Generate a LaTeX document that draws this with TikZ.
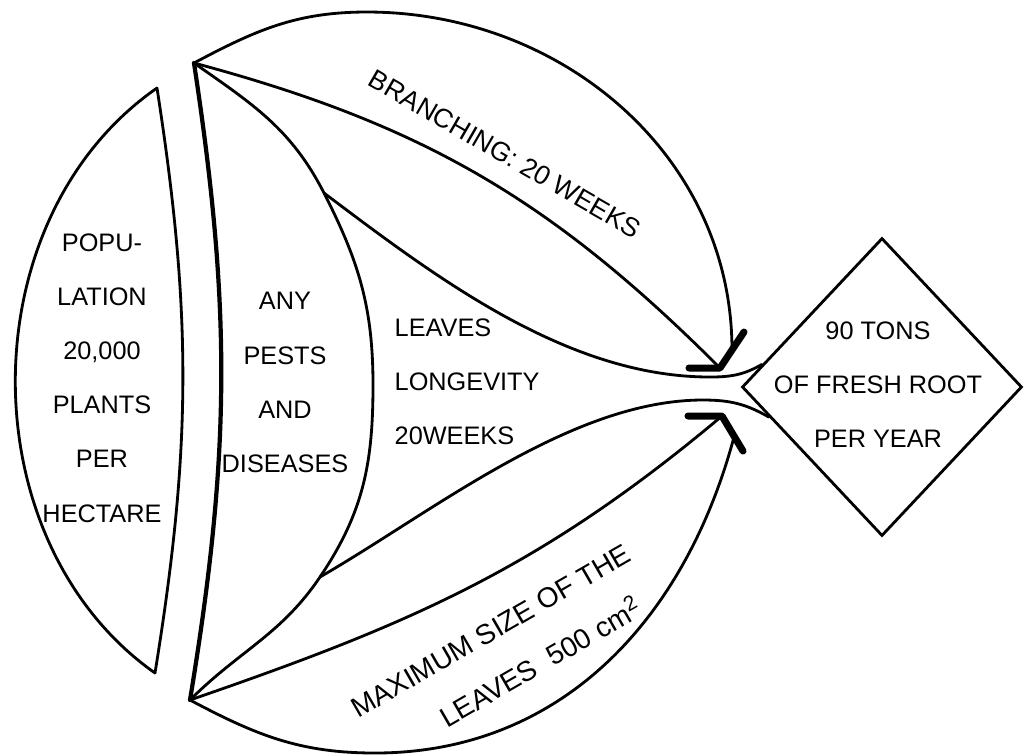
\documentclass[tikz,border=0pt]{standalone}
\usepackage{fontspec}
\setmainfont{Liberation Sans}
\usetikzlibrary{shapes.geometric, calc}

\begin{document}
\begin{tikzpicture}[
    rim/.style={thick, line cap=round},
    stem/.style={very thick, line cap=round},
    barb/.style={line width=2pt, line cap=round, line join=round},
    txt/.style={font=\fontsize{7.2}{15.4}\selectfont, align=center, inner sep=0pt},
    slant/.style={font=\fontsize{7.6}{15}\selectfont, align=center, inner sep=0pt},
    goal/.style={draw, thick, diamond, minimum width=2.8cm, minimum height=2.98cm, inner sep=0pt}
  ]
  \useasboundingbox (0,0) rectangle (10.24,-7.55);

  % Eckpunkte
  \coordinate (lt)  at (1.57,-0.88);
  \coordinate (lb)  at (1.55,-6.73);
  \coordinate (a)   at (1.94,-0.63);
  \coordinate (b)   at (1.90,-7.00);
  \coordinate (j1)  at (3.24,-1.93);
  \coordinate (pm)  at (3.73,-3.85);
  \coordinate (j2)  at (3.20,-5.77);
  \coordinate (top) at (3.67,-0.12);
  \coordinate (bot) at (3.75,-7.53);
  \coordinate (u0)  at (7.10,-3.77);
  \coordinate (l0)  at (7.03,-4.00);
  \coordinate (ae1) at (7.32,-3.50);
  \coordinate (ae2) at (7.34,-4.37);

  % Pfeilspitzen
  \coordinate (v1)  at (7.20,-3.68);
  \coordinate (v1a) at (6.89,-3.68);
  \coordinate (v1b) at (7.44,-3.32);
  \coordinate (v2)  at (7.22,-4.16);
  \coordinate (v2a) at (6.88,-4.16);
  \coordinate (v2b) at (7.43,-4.51);

  % Ziel
  \node[goal] (root) at (8.82,-3.87) {};
  \coordinate (e1) at ($(root.west)!0.15!(root.north)$);
  \coordinate (e2) at ($(root.west)!0.2!(root.south)$);

  % Flaechen
  \draw[rim] (lt) to[bend left=9] (lb);
  \draw[rim] (lt) to[bend right=55] (lb);
  \draw[stem] (a) to[bend left=9] (b);
  \draw[rim] (a) to[out=-35,in=117] (j1) to[out=-63,in=90] (pm)
             to[out=-90,in=56] (j2) to[out=-124,in=45] (b);
  \draw[rim] (a) to[out=28,in=180] (top) to[out=0,in=90] (ae1);
  \draw[rim] (a) to[out=-15,in=135] (v1);
  \draw[rim] (j1) to[out=-37,in=180,looseness=0.85] (u0) to[out=0,in=-150] (e1);
  \draw[rim] (j2) to[out=30,in=180,looseness=0.8] (l0) to[out=0,in=150] (e2);
  \draw[rim] (b) to[out=19,in=-140] (v2);
  \draw[rim] (b) to[out=-28,in=180] (bot) to[out=0,in=-105] (ae2);
  \draw[barb] (v1a) -- (v1) -- (v1b);
  \draw[barb] (v2a) -- (v2) -- (v2b);

  % Texte
  \node[txt] (popu) at (1.02,-3.78) {POPU-\\LATION\\20,000\\PLANTS\\PER\\HECTARE};
  \node[txt] (pests) at (2.85,-3.825) {ANY\\PESTS\\AND\\DISEASES};
  \node[txt, align=left, anchor=west] (leaves) at (3.94,-3.815) {LEAVES\\LONGEVITY\\20WEEKS};
  \node[txt] (tons) at (8.78,-3.845) {90 TONS\\OF FRESH ROOT\\PER YEAR};
  \node[slant, rotate=-30] (branch) at (5.05,-1.54) {BRANCHING: 20 WEEKS};
  \node[slant, font=\fontsize{8}{15}\selectfont, rotate=30] (maxsize) at (5.04,-6.54)
    {MAXIMUM SIZE OF THE\\\hspace*{5.6mm}LEAVES\ \ 500 cm\textsuperscript{2}};
\end{tikzpicture}
\end{document}
